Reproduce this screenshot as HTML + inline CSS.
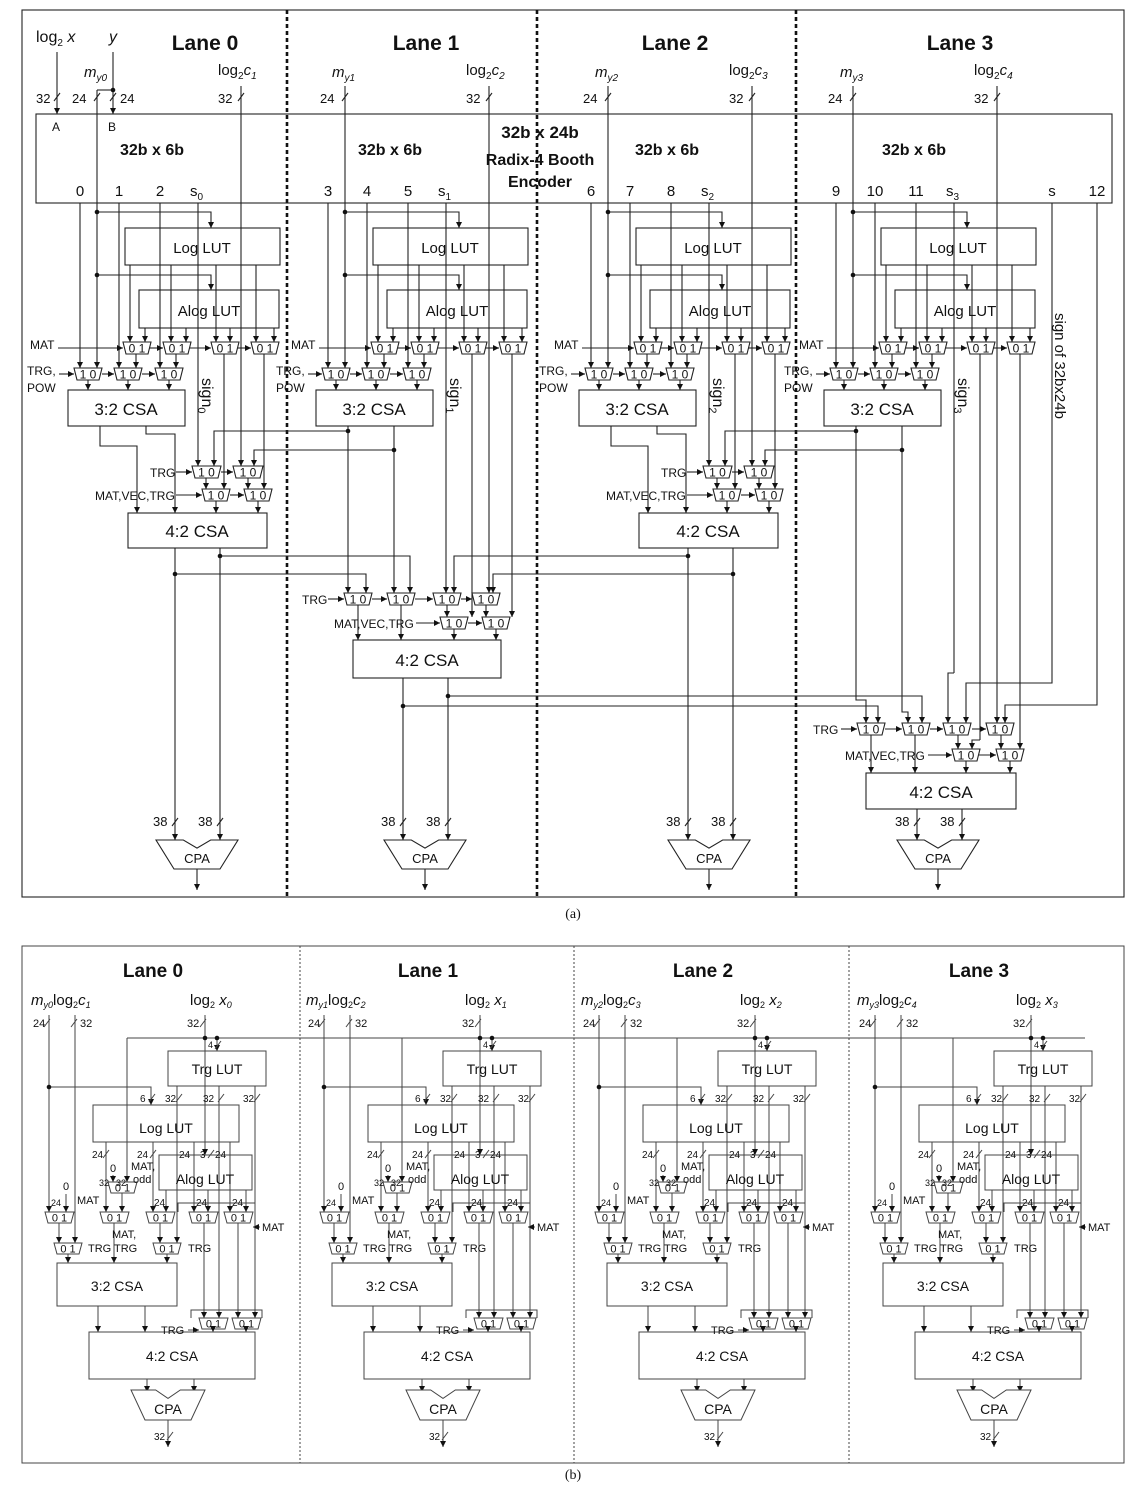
<!DOCTYPE html>
<html><head><meta charset="utf-8"><style>
html,body{margin:0;padding:0;background:#fff;}
svg{display:block;font-family:"Liberation Sans",Arial,sans-serif;}
</style></head><body>
<svg id="sv" width="1146" height="1503" viewBox="0 0 1146 1503" xmlns="http://www.w3.org/2000/svg">
<defs><marker id="ar" markerWidth="8" markerHeight="8" refX="6" refY="3" orient="auto" markerUnits="userSpaceOnUse"><path d="M0,0 L6,3 L0,6 z" fill="#111"/></marker></defs>
<g id="g" stroke="#222" stroke-width="1.1" fill="none"></g>
<g id="g2" stroke="#444" stroke-width="1" fill="none"></g>
<g id="t" fill="#111" stroke="none"></g>
</svg>
<script>
let s='',tx='';
const L=(x1,y1,x2,y2,a)=>{s+=`<line x1="${x1}" y1="${y1}" x2="${x2}" y2="${y2}"${a?' marker-end="url(#ar)"':''}/>`;};
const P=(p,a)=>{s+=`<polyline points="${p}"${a?' marker-end="url(#ar)"':''}/>`;};
const R=(x,y,w,h)=>{s+=`<rect x="${x}" y="${y}" width="${w}" height="${h}"/>`;};
const T=(x,y,t,fs,ex='')=>{tx+=`<text x="${x}" y="${y}" font-size="${fs}" ${ex}>${t}</text>`;};
const C=(x,y,t,fs,ex='')=>T(x,y,t,fs,'text-anchor="middle" '+ex);
const D=(x,y)=>{tx+=`<circle cx="${x}" cy="${y}" r="2.3"/>`;};
const M=(x,y,w,h,lab,fs)=>{s+=`<polygon points="${x},${y} ${x+w},${y} ${x+w-3},${y+h} ${x+3},${y+h}" fill="#fff"/>`;C(x+w/2,y+h-1.5,lab,fs||h);};
const SL=(x,y)=>L(x-3,y+4,x+3,y-4);

/* ============ (a) ============ */
R(22,10,1102,887);
[287,537,796].forEach(x=>s+=`<line x1="${x}" y1="10" x2="${x}" y2="897" stroke-dasharray="4,3" stroke-width="2.6" stroke="#111"/>`);
const laneT=[205,426,675,960];
laneT.forEach((x,i)=>C(x,50,'Lane '+i,21,'font-weight="bold"'));
R(36,114,1076,89);
C(540,138,'32b x 24b',17,'font-weight="bold"');
C(540,165,'Radix-4 Booth',16,'font-weight="bold"');
C(540,187,'Encoder',16,'font-weight="bold"');
const sx=[152,390,667,914];
sx.forEach(x=>C(x,155,'32b x 6b',16,'font-weight="bold"'));
T(36,42,'log<tspan font-size="10" dy="4">2</tspan><tspan dy="-4"> </tspan><tspan font-style="italic">x</tspan>',16);
C(113,42,'y',16,'font-style="italic"');
L(57,52,57,114,1);L(113,52,113,114,1);D(113,90);L(97,90,113,90);
T(36,103,'32',13);SL(57,97);T(120,103,'24',13);SL(113,97);
T(52,131,'A',12);T(108,131,'B',12);
const OA=[0,248,511,756];
for(let i=0;i<4;i++){
 const o=OA[i];
 const odd=i%2==1;
 T(84+o,77,'<tspan font-style="italic">m</tspan><tspan font-size="10" dy="4" font-style="italic">y'+i+'</tspan>',15);
 T(218+o,75,'log<tspan font-size="10" dy="4">2</tspan><tspan dy="-4" font-style="italic">c</tspan><tspan font-size="10" dy="4" font-style="italic">'+(i+1)+'</tspan>',15);
 T(72+o,103,'24',13);SL(97+o,97);
 T(218+o,103,'32',13);SL(241+o,97);
 const nums=[3*i,3*i+1,3*i+2];
 [80,119,160].forEach((x,k)=>C(x+o,196,nums[k],15));
 T(190+o,196,'s<tspan font-size="10" dy="4">'+i+'</tspan>',15);
 L(97+o,i==0?90:86,97+o,368,1);
 L(80+o,203,80+o,368,1);L(119+o,203,119+o,368,1);L(160+o,203,160+o,368,1);
 if(!odd){L(198+o,203,198+o,466,1);L(241+o,86,241+o,466,1);}
 D(97+o,212);P(`${97+o},212 ${211+o},212 ${211+o},228`,1);
 D(97+o,275);P(`${97+o},275 ${211+o},275 ${211+o},290`,1);
 R(125+o,228,155,37);C(202+o,253,'Log LUT',15);
 R(139+o,290,140,38);C(209+o,316,'Alog LUT',15);
 [130,171,216,256].forEach(x=>L(x+o,265,x+o,342,1));
 [145,186,230,274].forEach(x=>L(x+o,328,x+o,342,1));
 [123,163,211,251].forEach(x=>M(x+o,342,28,12,'0 1',12));
 const mo=i==0?30:43+o;
 T(mo,349,'MAT',12);L(mo+28,348,123+o,348,1);L(150+o,348,163+o,348,1);L(190+o,348,211+o,348,1);L(237+o,348,251+o,348,1);
 L(136+o,354,136+o,368,1);L(176+o,354,176+o,368,1);
 if(!odd){L(224+o,354,224+o,489,1);L(264+o,354,264+o,489,1);}
 [74,114,155].forEach(x=>M(x+o,368,28,12,'1 0',12));
 const to=i==0?27:28+o;
 T(to,375,'TRG,',12);T(to,392,'POW',12);L(to+32,374,74+o,374,1);L(102+o,374,114+o,374,1);L(142+o,374,155+o,374,1);
 [88,128,169].forEach(x=>L(x+o,380,x+o,390,1));
 R(68+o,390,117,36);C(126+o,415,'3:2 CSA',17);
 tx+=`<text transform="translate(${202+o},378) rotate(90)" font-size="16">sign<tspan font-size="11" dy="4">${i}</tspan></text>`;
 if(!odd){
  P(`${100+o},426 ${100+o},446 ${137+o},446 ${137+o},513`,1);
  P(`${146+o},426 ${146+o},434 ${175+o},434 ${175+o},513`,1);
 }
}
for(const [o,o2] of [[0,248],[511,756]]){
 const a=100+o2,b=146+o2;
 D(a,431);P(`${a},431 ${214+o},431 ${214+o},466`,1);
 D(b,450);P(`${b},450 ${254+o},450 ${254+o},466`,1);
 M(192+o,466,29,12,'1 0',12);M(233+o,466,30,12,'1 0',12);
 T(150+o,477,'TRG',12);L(176+o,472,192+o,472,1);L(221+o,472,233+o,472,1);
 L(206+o,478,206+o,489,1);L(248+o,478,248+o,489,1);
 M(202+o,489,28,12,'1 0',12);M(244+o,489,28,12,'1 0',12);
 T(95+o,500,'MAT,VEC,TRG',12);L(176+o,495,202+o,495,1);L(230+o,495,244+o,495,1);
 L(216+o,501,216+o,513,1);L(258+o,501,258+o,513,1);
 R(128+o,513,139,35);C(197+o,537,'4:2 CSA',17);
}
L(348,426,348,593,1);L(394,426,394,593,1);
P(`${856},426 856,700 866,700 866,723`,1);P(`902,426 902,712 908,712 908,723`,1);
L(175,548,175,840,1);L(220,548,220,840,1);
D(220,556);P('220,556 410,556 410,593',1);
D(175,574);P('175,574 366,574 366,593',1);
L(688,548,688,840,1);L(733,548,733,840,1);
D(688,556);P('688,556 454,556 454,593',1);
D(733,574);P('733,574 493,574 493,593',1);
L(446,203,446,593,1);L(489,86,489,593,1);
L(472,354,472,617,1);L(512,354,512,617,1);
[344,387,433,472].forEach(x=>M(x,593,28,12,'1 0',12));
T(302,604,'TRG',12);L(328,599,344,599,1);L(372,599,387,599,1);L(415,599,433,599,1);L(461,599,472,599,1);
L(358,605,358,640,1);L(401,605,401,640,1);L(447,605,447,617,1);L(486,605,486,617,1);
M(440,617,28,12,'1 0',12);M(482,617,28,12,'1 0',12);
T(334,628,'MAT,VEC,TRG',12);L(416,623,440,623,1);L(468,623,482,623,1);
L(454,629,454,640,1);L(496,629,496,640,1);
R(353,640,148,38);C(427,666,'4:2 CSA',17);
L(403,678,403,840,1);L(448,678,448,840,1);
D(448,696);P('448,696 922,696 922,723',1);
D(403,706);P('403,706 878,706 878,723',1);
C(1052,196,'s',15);C(1097,196,'12',15);
tx+=`<text transform="translate(1055,313) rotate(90)" font-size="15">sign of 32bx24b</text>`;
L(954,203,954,673);P('954,673 948,673 948,723',1);
P('1052,203 1052,683 966,683 966,723',1);
L(997,86,997,723,1);
P('1097,203 1097,705 1005,705 1005,723',1);
L(980,354,980,740);P('980,740 972,740 972,749',1);
L(1020,354,1020,749,1);
[857,902,943,986].forEach(x=>M(x,723,28,12,'1 0',12));
T(813,734,'TRG',12);L(841,729,857,729,1);L(885,729,902,729,1);L(930,729,943,729,1);L(972,729,986,729,1);
L(871,735,871,773,1);L(915,735,915,773,1);L(958,735,958,749,1);L(1001,735,1001,749,1);
M(952,749,28,12,'1 0',12);M(996,749,28,12,'1 0',12);
T(845,760,'MAT,VEC,TRG',12);L(928,755,952,755,1);L(979,755,996,755,1);
L(966,761,966,773,1);L(1010,761,1010,773,1);
R(866,773,150,36);C(941,798,'4:2 CSA',17);
L(917,809,917,840,1);L(962,809,962,840,1);
const cpa=(c,y1,ww,bw,h,fs)=>{s+=`<polygon points="${c-ww},${y1} ${c-ww/3},${y1} ${c},${y1+h*0.28} ${c+ww/3},${y1} ${c+ww},${y1} ${c+bw},${y1+h} ${c-bw},${y1+h}" fill="#fff"/>`;C(c,y1+h*0.8,'CPA',fs);};
[[197,175,220],[425,403,448],[709,688,733],[938,917,962]].forEach(([c,a,b])=>{
 cpa(c,840,41,23,29,13);
 T(a-22,826,'38',13);SL(a,822);T(b-22,826,'38',13);SL(b,822);
 L(c,869,c,890,1);
});
C(573,918,'(a)',14,'font-family="Liberation Serif"');
const sA=s; s='';

/* ============ (b) ============ */
R(22,946,1102,517);
[300,574,849].forEach(x=>s+=`<line x1="${x}" y1="946" x2="${x}" y2="1463" stroke-dasharray="2,2" stroke="#444"/>`);
L(127,1038,1085,1038);
const OB=[0,275,550,826];
for(let i=0;i<4;i++){
 const o=OB[i];
 C(153+o,977,'Lane '+i,19,'font-weight="bold"');
 T(31+o,1005,'<tspan font-style="italic">m</tspan><tspan font-size="9" dy="3" font-style="italic">y'+i+'</tspan><tspan dy="-3">log</tspan><tspan font-size="9" dy="3">2</tspan><tspan dy="-3" font-style="italic">c</tspan><tspan font-size="9" dy="3" font-style="italic">'+(i+1)+'</tspan>',15);
 T(190+o,1005,'log<tspan font-size="9" dy="3">2</tspan><tspan dy="-3" font-style="italic"> x</tspan><tspan font-size="9" dy="3" font-style="italic">'+i+'</tspan>',15);
 T(33+o,1027,'24',11);SL(47+o,1023);T(80+o,1027,'32',11);SL(74+o,1023);T(187+o,1027,'32',11);SL(203+o,1023);
 L(49+o,1015,49+o,1212,1);L(75+o,1015,75+o,1243,1);L(205+o,1015,205+o,1155,1);
 D(205+o,1038);D(217+o,1038);L(217+o,1038,217+o,1051,1);T(208+o,1048,'4',9);SL(218+o,1045);
 L(127+o,1038,127+o,1182,1);
 R(168+o,1051,98,35);C(217+o,1074,'Trg LUT',14);
 L(177+o,1086,177+o,1243,1);L(219+o,1086,219+o,1318,1);L(255+o,1086,255+o,1318,1);
 T(165+o,1102,'32',10);SL(179+o,1098);T(203+o,1102,'32',10);SL(221+o,1098);T(243+o,1102,'32',10);SL(257+o,1098);
 D(49+o,1087);P(`${49+o},1087 ${151+o},1087 ${151+o},1105`,1);T(140+o,1102,'6',10);SL(152+o,1098);
 R(93+o,1105,146,37);C(166+o,1133,'Log LUT',14);
 L(106+o,1142,106+o,1212,1);L(153+o,1142,153+o,1212,1);L(194+o,1142,194+o,1212,1);L(230+o,1142,230+o,1212,1);
 T(92+o,1158,'24',10);SL(106+o,1154);T(137+o,1158,'24',10);SL(153+o,1154);T(179+o,1158,'24',10);T(200+o,1158,'3',10);SL(211+o,1154);T(215+o,1158,'24',10);
 R(159+o,1155,93,35);C(205+o,1184,'Alog LUT',14);
 C(113+o,1172,'0',11);T(99+o,1186,'32',9);T(116+o,1186,'32',9);T(131+o,1170,'MAT,',11);T(133+o,1183,'odd',11);
 L(113+o,1175,113+o,1182,1);
 M(108+o,1182,29,11,'0 1',11);L(122+o,1193,122+o,1212,1);
 L(166+o,1190,166+o,1212,1);L(208+o,1190,208+o,1212,1);L(246+o,1190,246+o,1212,1);
 T(154+o,1206,'24',10);T(196+o,1206,'24',10);T(232+o,1206,'24',10);
 C(66+o,1190,'0',11);T(51+o,1206,'24',9);L(66+o,1194,66+o,1212,1);T(77+o,1204,'MAT',11);
 [45,100,146,189,224].forEach(x=>M(x+o,1212,29,11,'0 1',11));
 T(262+o,1231,'MAT',11);L(260+o,1227,253+o,1227,1);
 P(`${178+o},1212 ${178+o},1203 ${255+o},1203 ${255+o},1212`);
 L(59+o,1223,59+o,1243,1);L(114+o,1223,114+o,1263,1);L(160+o,1223,160+o,1243,1);L(204+o,1223,204+o,1318,1);L(238+o,1223,238+o,1318,1);
 T(112+o,1238,'MAT,',11);T(114+o,1252,'TRG',11);
 M(54+o,1243,28,11,'0 1',11);M(153+o,1243,28,11,'0 1',11);
 T(88+o,1252,'TRG',11);T(188+o,1252,'TRG',11);
 L(68+o,1254,68+o,1263,1);L(167+o,1254,167+o,1263,1);
 R(57+o,1263,120,43);C(117+o,1291,'3:2 CSA',14);
 L(98+o,1306,98+o,1332,1);L(145+o,1306,145+o,1332,1);
 P(`${191+o},1318 ${191+o},1310 ${262+o},1310 ${262+o},1318`);
 M(199+o,1318,29,11,'0 1',11);M(232+o,1318,29,11,'0 1',11);
 T(161+o,1334,'TRG',11);L(188+o,1330,199+o,1330,1);
 L(213+o,1329,213+o,1332,1);L(246+o,1329,246+o,1332,1);
 R(89+o,1332,166,47);C(172+o,1361,'4:2 CSA',14);
 L(147+o,1379,147+o,1392,1);L(194+o,1379,194+o,1392,1);
 cpa(168+o,1390,37,23,30,14);
 L(168+o,1420,168+o,1447,1);T(154+o,1440,'32',10);SL(170+o,1436);
}
C(573,1479,'(b)',14,'font-family="Liberation Serif"');

document.getElementById('g').innerHTML=sA;
document.getElementById('g2').innerHTML=s;
document.getElementById('t').innerHTML=tx;
</script>
</body></html>
